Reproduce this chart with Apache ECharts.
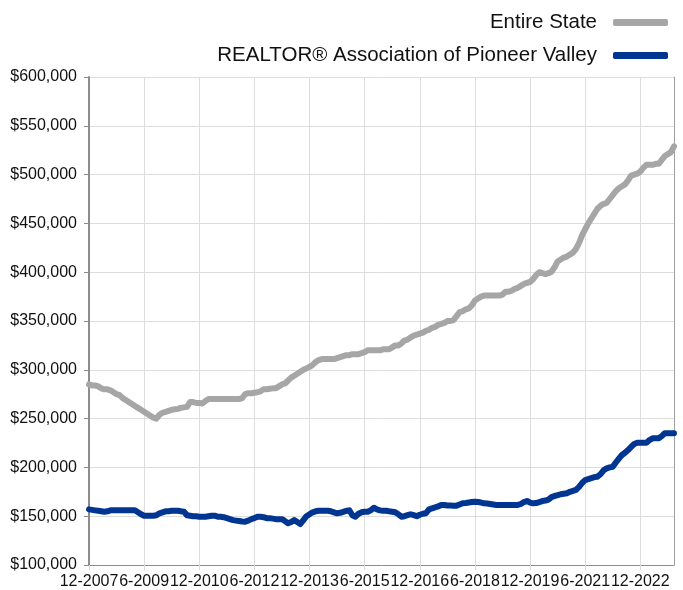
<!DOCTYPE html>
<html>
<head>
<meta charset="utf-8">
<script src="https://cdn.jsdelivr.net/npm/echarts@6/dist/echarts.min.js"></script>
<style>
  html, body { margin: 0; padding: 0; background: #fff; }
  #chart { width: 683px; height: 590px; }
</style>
</head>
<body>
<div id="chart"></div>
<script>
// monthly categories, 12-2007 .. 11-2023
const startMonth = 12, startYear = 2007, monthCount = 192
const months = []
for (let i = 0; i < monthCount; i++) {
  const m = (startMonth - 1 + i) % 12 + 1
  const y = startYear + Math.floor((startMonth - 1 + i) / 12)
  months.push(m + '-' + y)
}

const seriesNames = ['Entire State', 'REALTOR® Association of Pioneer Valley']

const entireState = [
  285000, 284000, 284000, 283000, 281000, 280000, 280000, 279000, 277000, 275000, 274000, 271000,
  269000, 267000, 265000, 263000, 261000, 259000, 257000, 255000, 253000, 251000, 250000, 254000,
  256000, 257000, 258000, 259000, 259500, 260000, 261000, 261500, 262000, 267000, 267000, 266000,
  266000, 265500, 268000, 270000, 270000, 270000, 270000, 270000, 270000, 270000, 270000, 270000,
  270000, 270000, 271000, 275000, 276000, 276000, 276500, 277000, 278000, 280000, 280000, 280500,
  281000, 281000, 283000, 285000, 286000, 289000, 292000, 294000, 296000, 298000, 300000, 301500,
  303000, 305000, 308000, 310000, 311000, 311000, 311000, 311000, 311000, 312000, 313000, 314000,
  315000, 315000, 316000, 316000, 316000, 317000, 318000, 320000, 320000, 320000, 320000, 320000,
  321000, 321000, 321000, 323000, 325000, 325000, 327000, 330000, 331000, 333000, 335000, 336000,
  337000, 338000, 340000, 341000, 343000, 344000, 346000, 347000, 348000, 350000, 350000, 351000,
  355000, 359000, 360000, 362000, 363000, 366000, 371000, 373000, 375000, 376000, 376000, 376000,
  376000, 376000, 376000, 377000, 380000, 380000, 381000, 383000, 384000, 386000, 388000, 389000,
  390000, 393000, 397000, 400000, 399000, 398000, 399000, 400500, 405000, 411000, 413000, 415000,
  416000, 418000, 420000, 424000, 430000, 438000, 444000, 450000, 455000, 460000, 465000, 468000,
  470000, 471000, 475000, 479000, 483000, 486000, 488000, 490000, 494000, 499000, 500000, 501000,
  503000, 507000, 510000, 510000, 510000, 511000, 511000, 515000, 519000, 521000, 523000, 529000
]

const pioneerValley = [
  157000, 156500, 156000, 155500, 155000, 154500, 155000, 156000, 156000, 156000, 156000, 156000,
  156000, 156000, 156000, 156000, 154000, 152000, 150500, 150500, 150500, 150500, 151000, 153000,
  154000, 155000, 155000, 155500, 155600, 155600, 155000, 154600, 151000, 150500, 150000, 150000,
  149500, 149500, 149500, 150000, 150500, 150500, 149500, 149500, 149000, 148000, 147000, 146000,
  145500, 145000, 144500, 144400, 145500, 147000, 148000, 149500, 149500, 149000, 148000, 148000,
  147500, 147000, 147000, 147000, 145000, 142700, 144000, 146000, 144000, 142000, 146000, 150000,
  152000, 154000, 155000, 155600, 155600, 155600, 155600, 155000, 154000, 153000, 153500, 154500,
  155500, 156000, 151000, 149500, 152500, 154000, 154500, 154600, 156000, 158700, 157000, 156000,
  155500, 155500, 155000, 154600, 154000, 152000, 149500, 150000, 151000, 152000, 151000, 150000,
  151500, 152500, 153000, 157000, 158000, 159000, 160000, 161500, 161500, 161000, 161000, 160800,
  160800, 162000, 163200, 163500, 164000, 164500, 164900, 164500, 164000, 163200, 163000, 162500,
  162000, 161500, 161500, 161500, 161500, 161500, 161500, 161500, 161500, 162500, 164500, 165600,
  164000, 163200, 163500, 164500, 165500, 166000, 167000, 169500, 170700, 171500, 172500, 173000,
  173500, 175000, 176000, 177000, 180000, 184000, 187000, 188000, 189000, 190000, 190500, 193000,
  197000, 199000, 200000, 200700, 205000, 209000, 212700, 215000, 217800, 221000, 224000, 225300,
  225300, 225300, 225300, 228000, 229800, 229800, 229800, 232000, 235000, 235000, 235000, 235000
]

const yMin = 100000, yMax = 600000, yStep = 50000
const labelEvery = 17

const chart = echarts.init(document.getElementById('chart'))
const font = '"Liberation Sans", Arial, Helvetica, sans-serif'

chart.setOption({
  animation: false,
  textStyle: { fontFamily: font },
  legend: {
    orient: 'vertical',
    right: 10,
    top: 7,
    align: 'right',
    itemGap: 12,
    itemWidth: 55,
    itemHeight: 7,
    icon: 'roundRect',
    textStyle: { fontSize: 20.5, color: '#111', fontFamily: font, padding: [0, 11, 0, 0] },
    data: seriesNames
  },
  grid: { left: 89, right: 9, top: 77, bottom: 25 },
  xAxis: {
    type: 'category',
    boundaryGap: false,
    data: months,
    axisLine: { lineStyle: { color: '#8c8c8c', width: 1 } },
    axisTick: { show: true, interval: labelEvery, length: 5, lineStyle: { color: '#d9d9d9' } },
    axisLabel: { interval: labelEvery, color: '#111', fontSize: 16, margin: 9, fontFamily: font },
    splitLine: { show: true, interval: labelEvery, lineStyle: { color: '#dddddd', width: 1 } }
  },
  yAxis: [
    {
      type: 'value',
      min: yMin,
      max: yMax,
      interval: yStep,
      axisLine: { show: true, lineStyle: { color: '#8c8c8c', width: 2 } },
      axisTick: { show: true, length: 5, lineStyle: { color: '#8c8c8c' } },
      axisLabel: {
        color: '#111',
        fontSize: 16,
        margin: 12,
        fontFamily: font,
        formatter: v => '$' + v.toLocaleString('en-US')
      },
      splitLine: { lineStyle: { color: '#dddddd', width: 1 } }
    },
    {
      type: 'value',
      position: 'right',
      min: yMin,
      max: yMax,
      interval: yStep,
      axisLine: { show: true, lineStyle: { color: '#a0a0a0', width: 1 } },
      axisTick: { show: false },
      axisLabel: { show: false },
      splitLine: { show: false }
    }
  ],
  series: [
    {
      name: seriesNames[0],
      type: 'line',
      data: entireState,
      showSymbol: false,
      symbol: 'none',
      color: '#a6a6a6',
      lineStyle: { width: 6, color: '#a6a6a6', cap: 'round', join: 'round' }
    },
    {
      name: seriesNames[1],
      type: 'line',
      data: pioneerValley,
      showSymbol: false,
      symbol: 'none',
      color: '#003591',
      lineStyle: { width: 6, color: '#003591', cap: 'round', join: 'round' }
    }
  ]
})
</script>
</body>
</html>
